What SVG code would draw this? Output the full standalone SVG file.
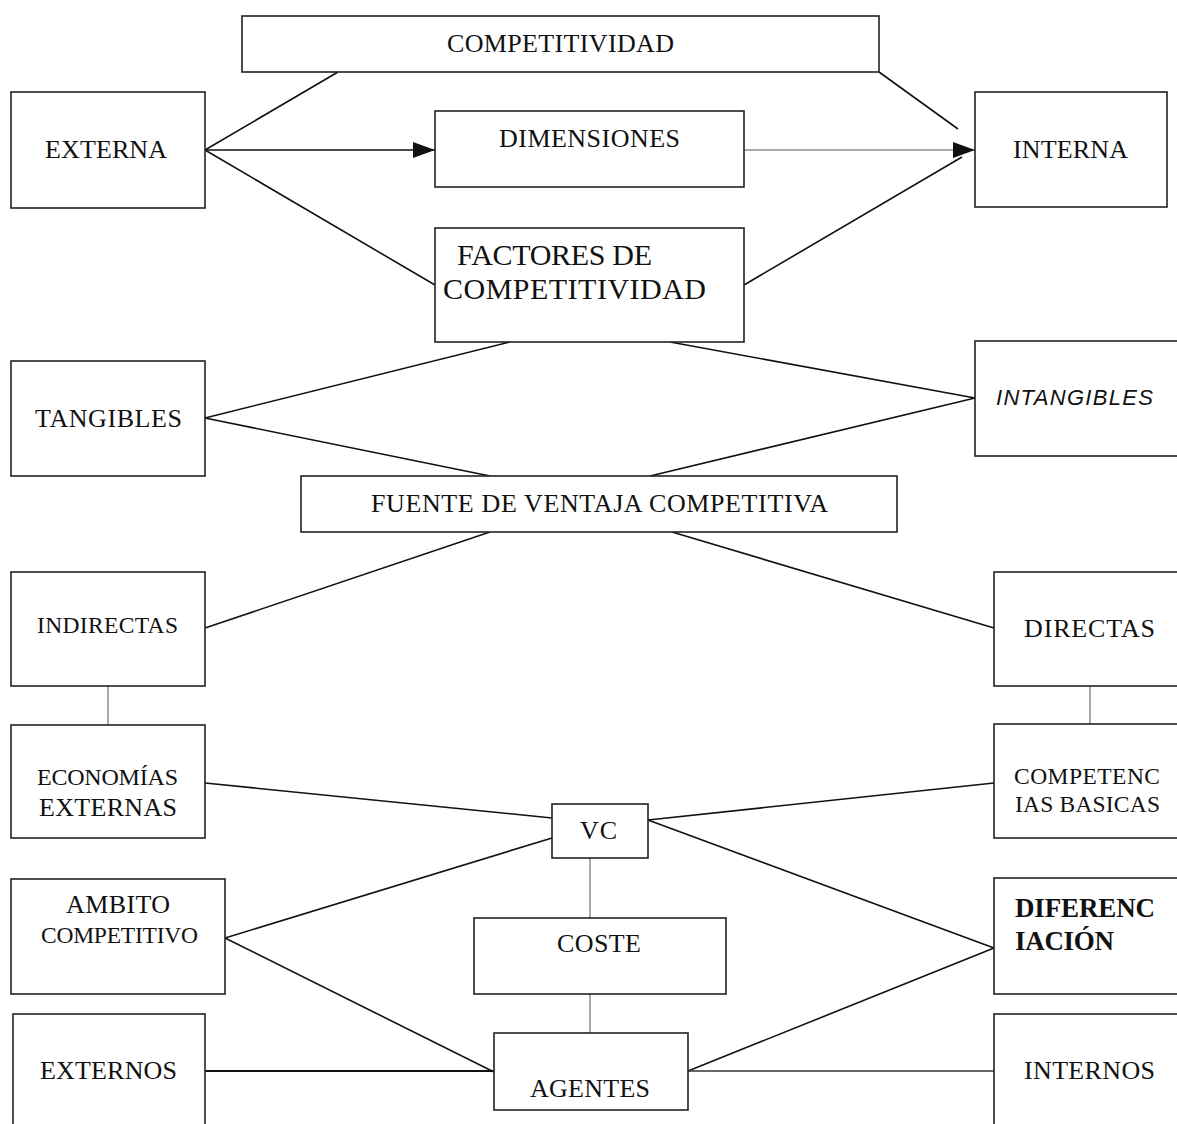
<svg xmlns="http://www.w3.org/2000/svg" width="1177" height="1124" viewBox="0 0 1177 1124">
  <style>
    .box { fill: #fff; stroke: #222; stroke-width: 1.6; }
    .lbl { font-family: "Liberation Serif", "Times New Roman", serif; font-size: 26px; fill: #111; }
    .big { font-size: 30px; }
    .sm { font-size: 23.5px; }
    .bold { font-size: 27px; font-weight: bold; }
    .it { font-family: "Liberation Sans", Arial, sans-serif; font-style: italic; font-size: 22px; }
    .ln { stroke: #111; stroke-width: 1.6; fill: none; }
    .thin { stroke: #555; stroke-width: 1; fill: none; }
  </style>
  <defs>
    <marker id="tri" markerUnits="userSpaceOnUse" markerWidth="24" markerHeight="18" refX="22" refY="8" orient="auto">
      <path d="M0,0 L22,8 L0,16 Z" fill="#111"/>
    </marker>
  </defs>
  <rect width="1177" height="1124" fill="#fff"/>

  <!-- connectors -->
  <g id="connectors">
    <line class="ln" x1="338" y1="72" x2="205" y2="150"/>
    <line class="ln" x1="879" y1="72" x2="958" y2="129"/>
    <line class="ln" x1="205" y1="150" x2="435" y2="150" marker-end="url(#tri)"/>
    <line class="thin" x1="744" y1="150" x2="975" y2="150" marker-end="url(#tri)"/>
    <line class="ln" x1="205" y1="150" x2="435" y2="285"/>
    <line class="ln" x1="744" y1="285" x2="962" y2="157"/>
    <line class="ln" x1="205" y1="418" x2="510" y2="342"/>
    <line class="ln" x1="205" y1="418" x2="490" y2="476"/>
    <line class="ln" x1="975" y1="398" x2="670" y2="342"/>
    <line class="ln" x1="975" y1="398" x2="650" y2="476"/>
    <line class="ln" x1="490" y1="532" x2="205" y2="628"/>
    <line class="ln" x1="672" y1="532" x2="994" y2="628"/>
    <line class="thin" x1="108" y1="686" x2="108" y2="725"/>
    <line class="thin" x1="1090" y1="686" x2="1090" y2="724"/>
    <line class="ln" x1="205" y1="783" x2="552" y2="818"/>
    <line class="ln" x1="994" y1="783" x2="648" y2="820"/>
    <line class="ln" x1="552" y1="838" x2="225" y2="938"/>
    <line class="ln" x1="648" y1="820" x2="994" y2="948"/>
    <line class="thin" x1="590" y1="858" x2="590" y2="918"/>
    <line class="thin" x1="590" y1="994" x2="590" y2="1033"/>
    <line class="ln" x1="225" y1="938" x2="494" y2="1072"/>
    <line class="ln" x1="205" y1="1071" x2="494" y2="1071" style="stroke-width:2.2"/>
    <line class="ln" x1="688" y1="1071" x2="994" y2="948"/>
    <line class="thin" x1="688" y1="1071" x2="994" y2="1071" style="stroke:#333;stroke-width:1.3"/>
  </g>

  <g id="competitividad">
    <rect class="box" x="242" y="16" width="637" height="56"/>
    <text class="lbl" x="447" y="52" textLength="227">COMPETITIVIDAD</text>
  </g>
  <g id="externa">
    <rect class="box" x="11" y="92" width="194" height="116"/>
    <text class="lbl" x="45" y="158" textLength="122">EXTERNA</text>
  </g>
  <g id="dimensiones">
    <rect class="box" x="435" y="111" width="309" height="76"/>
    <text class="lbl" x="499" y="147" textLength="181">DIMENSIONES</text>
  </g>
  <g id="interna">
    <rect class="box" x="975" y="92" width="192" height="115"/>
    <text class="lbl" x="1013" y="158" textLength="115">INTERNA</text>
  </g>
  <g id="factores">
    <rect class="box" x="435" y="228" width="309" height="114"/>
    <text class="lbl big" x="457" y="265" textLength="195">FACTORES DE</text>
    <text class="lbl big" x="443" y="299" textLength="263">COMPETITIVIDAD</text>
  </g>
  <g id="tangibles">
    <rect class="box" x="11" y="361" width="194" height="115"/>
    <text class="lbl" x="35" y="427" textLength="147">TANGIBLES</text>
  </g>
  <g id="intangibles">
    <rect class="box" x="975" y="341" width="205" height="115"/>
    <text class="lbl it" x="996" y="405" textLength="157">INTANGIBLES</text>
  </g>
  <g id="fuente">
    <rect class="box" x="301" y="476" width="596" height="56"/>
    <text class="lbl" x="371" y="512" textLength="457">FUENTE DE VENTAJA COMPETITIVA</text>
  </g>
  <g id="indirectas">
    <rect class="box" x="11" y="572" width="194" height="114"/>
    <text class="lbl sm" x="37" y="633" textLength="141">INDIRECTAS</text>
  </g>
  <g id="directas">
    <rect class="box" x="994" y="572" width="190" height="114"/>
    <text class="lbl" x="1024" y="637" textLength="131">DIRECTAS</text>
  </g>
  <g id="economias">
    <rect class="box" x="11" y="725" width="194" height="113"/>
    <text class="lbl" x="37" y="785" textLength="141" style="font-size:24px">ECONOMÍAS</text>
    <text class="lbl" x="39" y="816" textLength="138">EXTERNAS</text>
  </g>
  <g id="competencias">
    <rect class="box" x="994" y="724" width="190" height="114"/>
    <text class="lbl sm" x="1014" y="784" textLength="146">COMPETENC</text>
    <text class="lbl sm" x="1015" y="812" textLength="145">IAS BASICAS</text>
  </g>
  <g id="vc">
    <rect class="box" x="552" y="804" width="96" height="54"/>
    <text class="lbl" x="580" y="839" textLength="37">VC</text>
  </g>
  <g id="ambito">
    <rect class="box" x="11" y="879" width="214" height="115"/>
    <text class="lbl" x="66" y="913" textLength="104">AMBITO</text>
    <text class="lbl sm" x="41" y="943" textLength="157">COMPETITIVO</text>
  </g>
  <g id="coste">
    <rect class="box" x="474" y="918" width="252" height="76"/>
    <text class="lbl" x="557" y="952" textLength="84">COSTE</text>
  </g>
  <g id="diferenciacion">
    <rect class="box" x="994" y="878" width="190" height="116"/>
    <text class="lbl bold" x="1015" y="917" textLength="140">DIFERENC</text>
    <text class="lbl bold" x="1015" y="950" textLength="99">IACIÓN</text>
  </g>
  <g id="externos">
    <rect class="box" x="13" y="1014" width="192" height="120"/>
    <text class="lbl" x="40" y="1079" textLength="137">EXTERNOS</text>
  </g>
  <g id="agentes">
    <rect class="box" x="494" y="1033" width="194" height="77"/>
    <text class="lbl" x="530" y="1097" textLength="120">AGENTES</text>
  </g>
  <g id="internos">
    <rect class="box" x="994" y="1014" width="190" height="120"/>
    <text class="lbl" x="1024" y="1079" textLength="131">INTERNOS</text>
  </g>
</svg>
